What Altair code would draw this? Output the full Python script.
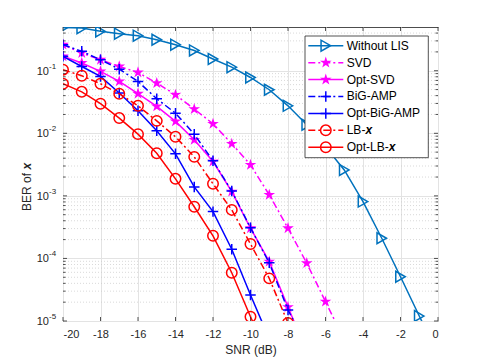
import altair as alt
import pandas as pd

# ---------------- data ----------------
snr = list(range(-20, 1))

without_lis = [0.49, 0.48, 0.426, 0.391, 0.363, 0.313, 0.261, 0.211, 0.154, 0.114,
               0.078, 0.0497, 0.0275, 0.0137, 0.00608, 0.0026, 8.1e-4, 2.1e-4,
               5.1e-5, 1.2e-5, 3e-6]
svd = [0.261, 0.192, 0.150, 0.117, 0.094, 0.0635, 0.0413, 0.0244, 0.0142, 0.0068,
       0.00313, 0.00104, 3.04e-4, 8.4e-5, 2.04e-5, 5e-6]
opt_svd = [0.17, 0.133, 0.0975, 0.0675, 0.0429, 0.027, 0.0155, 0.00787, 0.00354,
           0.00117, 3.04e-4, 8.9e-5, 1.67e-5, 3.2e-6]
bigamp = [0.261, 0.204, 0.150, 0.106, 0.0675, 0.0356, 0.021, 0.00964, 0.00363,
          0.0012, 3.08e-4, 8.5e-5, 1.5e-5, 4e-6]
opt_bigamp = [0.17, 0.117, 0.081, 0.044, 0.0229, 0.011, 0.0047, 0.00139, 5.6e-4,
              1.4e-4, 2.6e-5, 5.2e-6]
lb_x = [0.104, 0.083, 0.062, 0.0429, 0.0275, 0.0158, 0.0088, 0.0042, 0.00156,
        5.97e-4, 1.7e-4, 4.8e-5, 9.3e-6]
opt_lb_x = [0.062, 0.046, 0.0297, 0.0175, 0.0097, 0.0048, 0.00187, 6.7e-4, 2.3e-4,
            5.9e-5, 1.17e-5, 2.5e-6]

series_values = [without_lis, svd, opt_svd, bigamp, opt_bigamp, lb_x, opt_lb_x]
legend_main = ["Without LIS", "SVD", "Opt-SVD", "BiG-AMP", "Opt-BiG-AMP", "LB-", "Opt-LB-"]
legend_bold = ["", "", "", "", "", "x", "x"]

x_ticks = list(range(-20, 1, 2))
y_decades = [1e-5, 1e-4, 1e-3, 1e-2, 1e-1]
y_exponents = ["-5", "-4", "-3", "-2", "-1"]
y_minor = [m * d for d in y_decades for m in range(2, 10) if m * d < 0.5]

# ---------------- styles ----------------
W, H = 375, 294
FONT = "Liberation Sans"
AX = "#262626"
STAR = ("M0,-1L0.2234,-0.3074L0.9511,-0.309L0.3614,0.1174L0.5878,0.809L0,0.38"
        "L-0.5878,0.809L-0.3614,0.1174L-0.9511,-0.309L-0.2234,-0.3074Z")
PLUS = "M-1,0L1,0M0,-1L0,1"
DASHDOT = [7, 3, 2, 3]

styles = [
    dict(color="#0072BD", dash=None, shape="triangle-right", size=120, filled=False),
    dict(color="#FF00FF", dash=DASHDOT, shape=STAR, size=150, filled=True),
    dict(color="#FF00FF", dash=None, shape=STAR, size=150, filled=True),
    dict(color="#0000FF", dash=DASHDOT, shape=PLUS, size=110, filled=False),
    dict(color="#0000FF", dash=None, shape=PLUS, size=110, filled=False),
    dict(color="#FF0000", dash=DASHDOT, shape="circle", size=110, filled=False),
    dict(color="#FF0000", dash=None, shape="circle", size=110, filled=False),
]

x_enc = alt.X("snr:Q", title="SNR (dB)",
              scale=alt.Scale(domain=[-20, 0], nice=False, zero=False),
              axis=alt.Axis(values=x_ticks, labelExpr="'' + datum.value",
                            grid=True, gridColor="#e3e3e3", gridWidth=1,
                            ticks=False, tickSize=0, domain=False,
                            labelFont=FONT, labelFontSize=11, labelColor=AX,
                            labelPadding=7, titleFont=FONT, titleFontSize=12,
                            titleFontWeight="normal", titleColor=AX, titlePadding=5))
y_enc = alt.Y("ber:Q", title=None,
              scale=alt.Scale(type="log", domain=[1e-5, 0.5], nice=False),
              axis=alt.Axis(values=y_decades, labels=False, ticks=False,
                            tickSize=0, domain=False, grid=True,
                            gridColor="#e3e3e3", gridWidth=1))

layers = []

# minor y grid (dotted)
minor_df = pd.DataFrame({"ber": y_minor})
layers.append(alt.Chart(minor_df).mark_rule(color="#c8c8c8", strokeWidth=0.7,
                                            strokeDash=[1, 2]).encode(y=y_enc))

# series
for vals, st in zip(series_values, styles):
    df = pd.DataFrame({"snr": snr[:len(vals)], "ber": vals})
    lk = dict(color=st["color"], strokeWidth=1.5, clip=True)
    if st["dash"]:
        lk["strokeDash"] = st["dash"]
    layers.append(alt.Chart(df).mark_line(**lk).encode(x=x_enc, y=y_enc))
    pk = dict(shape=st["shape"], size=st["size"], filled=st["filled"],
              color=st["color"], strokeWidth=1.5, clip=True, opacity=1)
    if st["filled"]:
        pk["fill"] = st["color"]
    layers.append(alt.Chart(df).mark_point(**pk).encode(x=x_enc, y=y_enc))

# ticks (inward, MATLAB style)
xt_df = pd.DataFrame({"snr": x_ticks})
for y0, y1 in [(H, H - 4), (0, 4)]:
    layers.append(alt.Chart(xt_df).mark_rule(color=AX, strokeWidth=0.8).encode(
        x=x_enc, y=alt.value(y0), y2=alt.value(y1)))
yt_df = pd.DataFrame({"ber": y_decades})
ym_df = pd.DataFrame({"ber": y_minor})
for dfv, ln in [(yt_df, 4), (ym_df, 2.5)]:
    for x0, x1 in [(0, ln), (W, W - ln)]:
        layers.append(alt.Chart(dfv).mark_rule(color=AX, strokeWidth=0.8).encode(
            y=y_enc, x=alt.value(x0), x2=alt.value(x1)))

# y tick labels 10^k
ylab_df = pd.DataFrame({"ber": y_decades, "e": y_exponents, "b": ["10"] * 5})
layers.append(alt.Chart(ylab_df).mark_text(align="right", baseline="middle",
                                           font=FONT, fontSize=11, color=AX, dy=1).encode(
    y=y_enc, x=alt.value(-14), text="b:N"))
layers.append(alt.Chart(ylab_df).mark_text(align="left", baseline="middle",
                                           font=FONT, fontSize=8, color=AX, dy=-4).encode(
    y=y_enc, x=alt.value(-14), text="e:N"))

# y title "BER of x"
one = pd.DataFrame({"t": ["BER of"], "u": ["x"]})
layers.append(alt.Chart(one).mark_text(angle=270, align="right", baseline="middle",
                                       font=FONT, fontSize=12, color=AX).encode(
    x=alt.value(-36), y=alt.value(146), text="t:N"))
layers.append(alt.Chart(one).mark_text(angle=270, align="left", baseline="middle",
                                       font=FONT, fontSize=12, color=AX,
                                       fontStyle="italic", fontWeight="bold").encode(
    x=alt.value(-36), y=alt.value(142.5), text="u:N"))

# legend
LX0, LX1, LY0, LY1 = 242, 365.3, 9, 130.7
layers.append(alt.Chart(one).mark_rect(fill="white", stroke=AX, strokeWidth=0.8).encode(
    x=alt.value(LX0), x2=alt.value(LX1), y=alt.value(LY0), y2=alt.value(LY1)))
row0, step = 18.7, 16.93
for i, st in enumerate(styles):
    yy = row0 + i * step
    rk = dict(color=st["color"], strokeWidth=1.5)
    if st["dash"]:
        rk["strokeDash"] = st["dash"]
    layers.append(alt.Chart(one).mark_rule(**rk).encode(
        x=alt.value(245.3), x2=alt.value(280.3), y=alt.value(yy)))
    pk = dict(shape=st["shape"], size=st["size"], filled=st["filled"],
              color=st["color"], strokeWidth=1.5, opacity=1)
    if st["filled"]:
        pk["fill"] = st["color"]
    layers.append(alt.Chart(one).mark_point(**pk).encode(
        x=alt.value(262.8), y=alt.value(yy)))
    ldf = pd.DataFrame({"m": [legend_main[i]], "b": [legend_bold[i]]})
    layers.append(alt.Chart(ldf).mark_text(align="left", baseline="middle",
                                           font=FONT, fontSize=12, color="black").encode(
        x=alt.value(283.7), y=alt.value(yy), text="m:N"))
    if legend_bold[i]:
        wpx = {"LB-": 18.7, "Opt-LB-": 42.0}[legend_main[i]]
        layers.append(alt.Chart(ldf).mark_text(align="left", baseline="middle",
                                               font=FONT, fontSize=12, color="black",
                                               fontStyle="italic", fontWeight="bold").encode(
            x=alt.value(283.7 + wpx), y=alt.value(yy), text="b:N"))

chart = alt.layer(*layers).properties(
    width=W, height=H, autosize="none",
    padding={"left": 55, "top": 19, "right": 25, "bottom": 40},
    background="white",
).configure_view(stroke="#4d4d4d", strokeWidth=1)

chart.save("out.html", embed_options={"renderer": "svg", "actions": False})
